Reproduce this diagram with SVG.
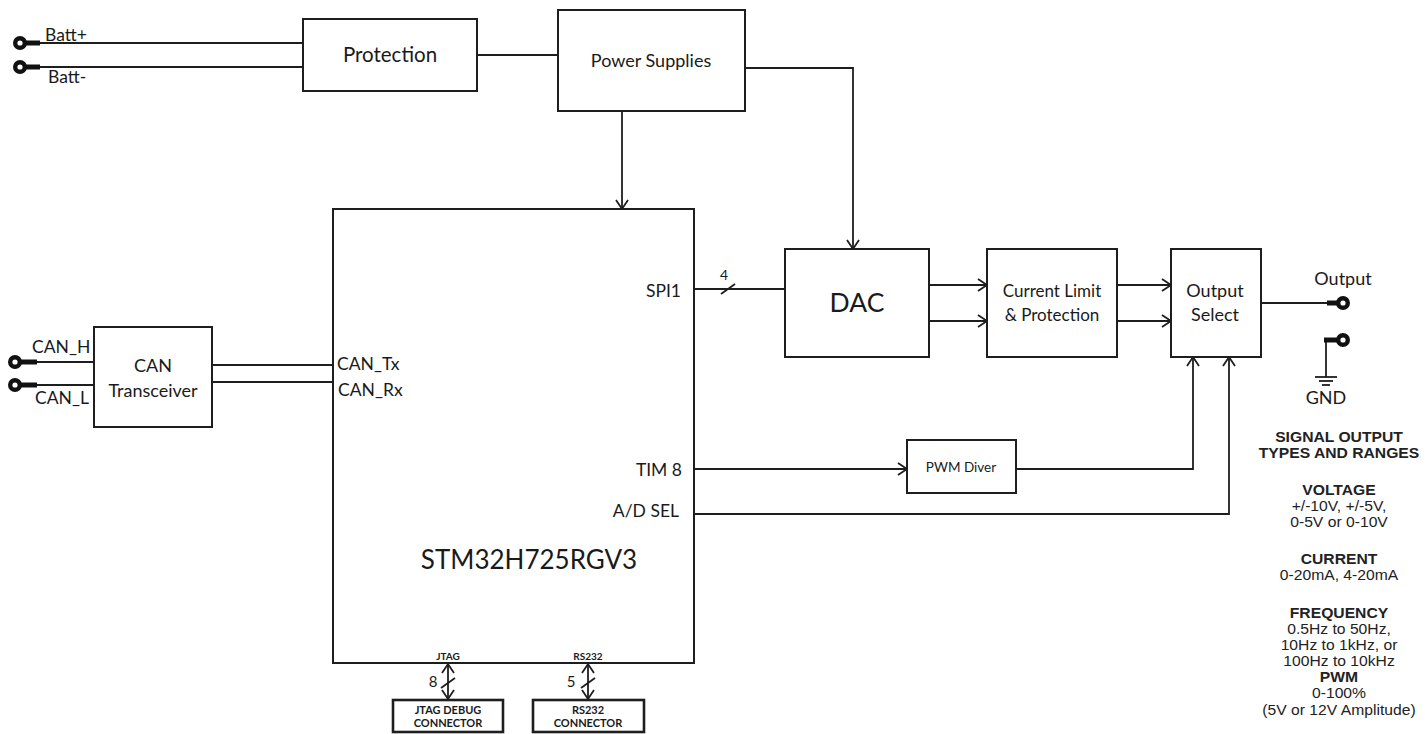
<svg xmlns="http://www.w3.org/2000/svg" width="1425" height="734" viewBox="0 0 1425 734">
<defs>
<marker id="arr" viewBox="0 0 12 14" markerWidth="12" markerHeight="14" refX="10" refY="7" orient="auto-start-reverse" markerUnits="userSpaceOnUse">
<path d="M1,1 L10,7 L1,13" fill="none" stroke="#1e1e1e" stroke-width="1.8"/>
</marker>
<style>
.box{fill:#fff;stroke:#1e1e1e;stroke-width:2}
.cbox{fill:#fff;stroke:#1e1e1e;stroke-width:2.6}
.w{fill:none;stroke:#1e1e1e;stroke-width:1.8}
.a{fill:none;stroke:#1e1e1e;stroke-width:1.8;marker-end:url(#arr)}
.ab{fill:none;stroke:#1e1e1e;stroke-width:1.8;marker-end:url(#arr);marker-start:url(#arr)}
.stub{stroke:#111;stroke-width:5;fill:none}
.ring{fill:#fff;stroke:#111;stroke-width:4.4}
.t{font-family:Lato,"Open Sans","Liberation Sans",sans-serif;fill:#1a1a1a}
.m{text-anchor:middle}
.e{text-anchor:end}
.s{font-family:"Liberation Sans",Arial,sans-serif;fill:#222;font-size:14px;text-anchor:middle}
.sb{font-weight:bold}
.cb{font-family:Lato,"Open Sans","Liberation Sans",sans-serif;font-weight:bold;fill:#1a1a1a;text-anchor:middle}
</style>
</defs>
<rect width="1425" height="734" fill="#fff"/>

<g id="connectors">
<line class="w" x1="40" y1="43" x2="303" y2="43"/>
<line class="w" x1="40" y1="67" x2="303" y2="67"/>
<line class="w" x1="477" y1="55" x2="558" y2="55"/>
<line class="a" x1="622" y1="111" x2="622" y2="209"/>
<path class="a" d="M745,68 H853 V249"/>
<line class="w" x1="37" y1="362" x2="94" y2="362"/>
<line class="w" x1="37" y1="385" x2="94" y2="385"/>
<line class="w" x1="212" y1="365" x2="333" y2="365"/>
<line class="w" x1="212" y1="382" x2="333" y2="382"/>
<line class="w" x1="694" y1="289" x2="785" y2="289"/>
<line class="w" x1="721" y1="294" x2="735" y2="284"/>
<line class="a" x1="929" y1="285" x2="987" y2="285"/>
<line class="a" x1="929" y1="321" x2="987" y2="321"/>
<line class="a" x1="1117" y1="285" x2="1171" y2="285"/>
<line class="a" x1="1117" y1="321" x2="1171" y2="321"/>
<line class="a" x1="694" y1="469" x2="907" y2="469"/>
<path class="a" d="M1016,469 H1193 V357"/>
<path class="a" d="M694,514 H1229 V357"/>
<line class="w" x1="1261" y1="303" x2="1330" y2="303"/>
<line class="w" x1="1326" y1="340" x2="1326" y2="377"/>
<line class="w" x1="1315" y1="377" x2="1337" y2="377"/>
<line class="w" x1="1319" y1="381" x2="1333" y2="381"/>
<line class="w" x1="1322" y1="385" x2="1330" y2="385"/>
<line class="ab" x1="448" y1="664" x2="448" y2="699"/>
<line class="w" x1="441" y1="688" x2="455" y2="678"/>
<line class="ab" x1="588" y1="664" x2="588" y2="699"/>
<line class="w" x1="581" y1="688" x2="595" y2="678"/>
</g>

<g id="batt-terminals">
<line class="stub" x1="22" y1="43" x2="40" y2="43"/>
<circle class="ring" cx="20" cy="43" r="4.8"/>
<line class="stub" x1="22" y1="67" x2="40" y2="67"/>
<circle class="ring" cx="20" cy="67" r="4.8"/>
<text class="t" x="45" y="41" font-size="17.5">Batt+</text>
<text class="t" x="48" y="83" font-size="17.5">Batt-</text>
</g>

<g id="can-terminals">
<line class="stub" x1="17" y1="362" x2="37" y2="362"/>
<circle class="ring" cx="15" cy="362" r="4.8"/>
<line class="stub" x1="17" y1="385" x2="37" y2="385"/>
<circle class="ring" cx="15" cy="385" r="4.8"/>
<text class="t" x="32" y="353" font-size="17.5">CAN_H</text>
<text class="t" x="35" y="404" font-size="17.5">CAN_L</text>
</g>

<g id="protection">
<rect class="box" x="303" y="19" width="174" height="72"/>
<text class="t m" x="390" y="62" font-size="20.5">Protection</text>
</g>

<g id="power-supplies">
<rect class="box" x="558" y="10" width="187" height="101"/>
<text class="t m" x="651" y="67" font-size="18">Power Supplies</text>
</g>

<g id="can-transceiver">
<rect class="box" x="94" y="327" width="118" height="100"/>
<text class="t m" x="153" y="372" font-size="18">CAN</text>
<text class="t m" x="153" y="397" font-size="18">Transceiver</text>
</g>

<g id="stm32">
<rect class="box" x="333" y="209" width="361" height="454"/>
<text class="t m" x="529" y="569" font-size="26">STM32H725RGV3</text>
<text class="t" x="337" y="370" font-size="17.5">CAN_Tx</text>
<text class="t" x="338" y="396" font-size="17.5">CAN_Rx</text>
<text class="t e" x="681" y="297" font-size="17.5">SPI1</text>
<text class="t e" x="682" y="476" font-size="17.5">TIM 8</text>
<text class="t e" x="679" y="517" font-size="17.5">A/D SEL</text>
<text class="cb" x="448" y="660" font-size="10">JTAG</text>
<text class="cb" x="588" y="660" font-size="10">RS232</text>
</g>

<text class="t m" x="724" y="280" font-size="14">4</text>
<text class="t m" x="433" y="687" font-size="15">8</text>
<text class="t m" x="571" y="687" font-size="15">5</text>

<g id="dac">
<rect class="box" x="785" y="249" width="144" height="108"/>
<text class="t m" x="857" y="312" font-size="26.5">DAC</text>
</g>

<g id="current-limit">
<rect class="box" x="987" y="249" width="130" height="108"/>
<text class="t m" x="1052" y="297" font-size="17">Current Limit</text>
<text class="t m" x="1052" y="321" font-size="17">&amp; Protection</text>
</g>

<g id="output-select">
<rect class="box" x="1171" y="249" width="90" height="108"/>
<text class="t m" x="1215" y="297" font-size="18">Output</text>
<text class="t m" x="1215" y="321" font-size="18">Select</text>
</g>

<g id="pwm-driver">
<rect class="box" x="907" y="440" width="109" height="53"/>
<text class="t m" x="961" y="472" font-size="13.5">PWM Diver</text>
</g>

<g id="output-terminal">
<line class="stub" x1="1327" y1="303" x2="1341" y2="303"/>
<circle class="ring" cx="1343" cy="303" r="4.8"/>
<text class="t m" x="1343" y="285" font-size="18">Output</text>
</g>

<g id="gnd-terminal">
<line class="stub" x1="1324" y1="340" x2="1341" y2="340"/>
<circle class="ring" cx="1343" cy="340" r="4.8"/>
<text class="t m" x="1326" y="404" font-size="18">GND</text>
</g>

<g id="jtag-connector">
<rect class="cbox" x="393" y="700" width="110" height="32"/>
<text class="cb" x="448" y="714" font-size="11">JTAG DEBUG</text>
<text class="cb" x="448" y="727" font-size="11">CONNECTOR</text>
</g>

<g id="rs232-connector">
<rect class="cbox" x="533" y="700" width="111" height="32"/>
<text class="cb" x="588" y="714" font-size="11">RS232</text>
<text class="cb" x="588" y="727" font-size="11">CONNECTOR</text>
</g>

<g id="signal-types" transform="translate(1339,0) scale(1.12,1)">
<text class="s sb" x="0" y="442">SIGNAL OUTPUT</text>
<text class="s sb" x="0" y="458">TYPES AND RANGES</text>
<text class="s sb" x="0" y="495">VOLTAGE</text>
<text class="s" x="0" y="511">+/-10V, +/-5V,</text>
<text class="s" x="0" y="527">0-5V or 0-10V</text>
<text class="s sb" x="0" y="564">CURRENT</text>
<text class="s" x="0" y="580">0-20mA, 4-20mA</text>
<text class="s sb" x="0" y="618">FREQUENCY</text>
<text class="s" x="0" y="634">0.5Hz to 50Hz,</text>
<text class="s" x="0" y="650">10Hz to 1kHz, or</text>
<text class="s" x="0" y="666">100Hz to 10kHz</text>
<text class="s sb" x="0" y="682">PWM</text>
<text class="s" x="0" y="698">0-100%</text>
<text class="s" x="0" y="715">(5V or 12V Amplitude)</text>
</g>
</svg>
